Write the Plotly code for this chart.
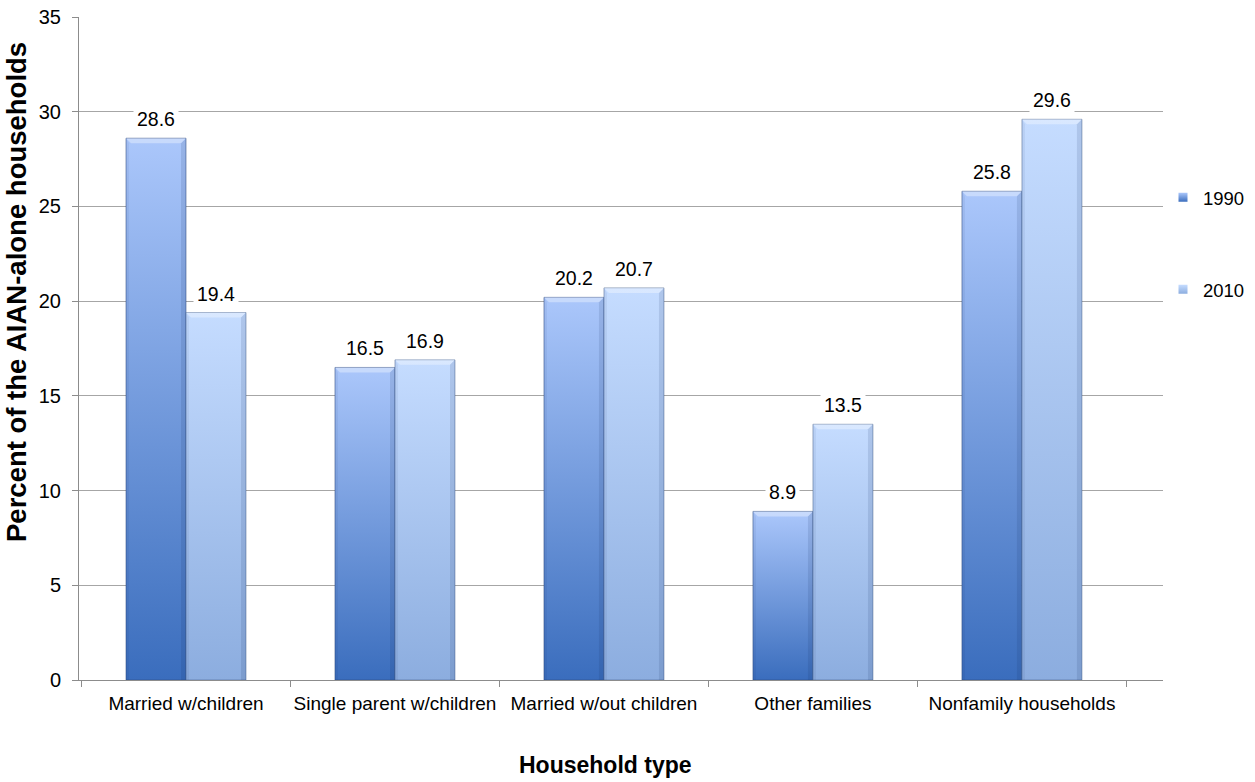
import plotly.graph_objects as go

# Household composition of AIAN-alone households, 1990 vs 2010 (percent)
categories = ["Married w/children", "Single parent w/children",
              "Married w/out children", "Other families", "Nonfamily households"]
years = ["1990", "2010"]
values_1990 = [28.6, 16.5, 20.2, 8.9, 25.8]
values_2010 = [19.4, 16.9, 20.7, 13.5, 29.6]
y_ticks = [0, 5, 10, 15, 20, 25, 30, 35]

# Figure geometry (pixels)
FIG_W, FIG_H = 1255, 782
M_L, M_R, M_T, M_B = 79, 92, 17, 102
PLOT_W = FIG_W - M_L - M_R
PLOT_H = FIG_H - M_T - M_B
X_RANGE = [-0.512, 4.675]
Y_RANGE = [0, 35]
PX_X = PLOT_W / (X_RANGE[1] - X_RANGE[0])
PX_Y = PLOT_H / (Y_RANGE[1] - Y_RANGE[0])

BAR_W = 60 / PX_X          # width of one bar in axis units
BEVEL_H = 5 / PX_Y         # bevel depth (vertical, axis units)
BEVEL_D = 5 / PX_X         # bevel depth (horizontal, axis units)

FONT = "Liberation Sans, Arial, sans-serif"

series_style = {
    "1990": dict(dark="#3a6dbd", light="#abc7fb", edge="rgba(45,75,130,0.55)"),
    "2010": dict(dark="#8caddf", light="#c5dcff", edge="rgba(70,95,140,0.5)"),
}

fig = go.Figure()


def add_bar(xc, left, val, style):
    x0 = xc - BAR_W if left else xc
    x1 = x0 + BAR_W
    # body with vertical gradient, dark at the base
    fig.add_trace(go.Scatter(
        x=[x0, x0, x1, x1, x0], y=[0, val, val, 0, 0],
        mode="lines", fill="toself",
        line=dict(color=style["edge"], width=1),
        fillgradient=dict(type="vertical", start=0, stop=val,
                          colorscale=[[0, style["dark"]], [1, style["light"]]]),
        hoverinfo="skip", showlegend=False))
    # top bevel highlight
    fig.add_trace(go.Scatter(
        x=[x0, x1, x1 - BEVEL_D, x0 + BEVEL_D, x0],
        y=[val, val, val - BEVEL_H, val - BEVEL_H, val],
        mode="lines", fill="toself", line=dict(width=0),
        fillcolor="rgba(255,255,255,0.35)",
        hoverinfo="skip", showlegend=False))
    # shaded side edges
    fig.add_trace(go.Scatter(
        x=[x1, x1, x1 - BEVEL_D, x1 - BEVEL_D, x1],
        y=[0, val, val - BEVEL_H, 0, 0],
        mode="lines", fill="toself", line=dict(width=0),
        fillcolor="rgba(20,40,90,0.12)",
        hoverinfo="skip", showlegend=False))
    fig.add_trace(go.Scatter(
        x=[x0, x0, x0 + BEVEL_D * 0.6, x0 + BEVEL_D * 0.6, x0],
        y=[0, val, val - BEVEL_H, 0, 0],
        mode="lines", fill="toself", line=dict(width=0),
        fillcolor="rgba(20,40,90,0.06)",
        hoverinfo="skip", showlegend=False))
    fig.add_annotation(
        x=(x0 + x1) / 2, y=val, text=f"{val:.1f}", showarrow=False,
        yanchor="middle", yshift=19, bgcolor="white", borderpad=3,
        font=dict(family=FONT, size=19.5, color="black"))


for i, cat in enumerate(categories):
    add_bar(i, True, values_1990[i], series_style["1990"])
    add_bar(i, False, values_2010[i], series_style["2010"])

# legend entries
for yr in years:
    st = series_style[yr]
    fig.add_trace(go.Scatter(
        x=[None], y=[None], mode="markers", name=yr, legendgroup=yr,
        marker=dict(symbol="square", size=9, color=st["light"],
                    gradient=dict(type="vertical", color=st["dark"]),
                    line=dict(width=0))))

# axis titles
fig.add_annotation(
    text="<b>Household type</b>", xref="paper", yref="paper",
    x=(605 - M_L) / PLOT_W, y=-(765 - (FIG_H - M_B)) / PLOT_H,
    xanchor="center", yanchor="middle", showarrow=False,
    font=dict(family=FONT, size=23, color="black"))
fig.add_annotation(
    text="<b>Percent of the AIAN-alone households</b>", xref="paper", yref="paper",
    x=(16 - M_L) / PLOT_W, y=((FIG_H - M_B) - 292) / PLOT_H,
    xanchor="center", yanchor="middle", textangle=-90, showarrow=False,
    font=dict(family=FONT, size=27.5, color="black"))

fig.update_layout(
    width=FIG_W, height=FIG_H,
    margin=dict(l=M_L, r=M_R, t=M_T, b=M_B, autoexpand=False),
    paper_bgcolor="white", plot_bgcolor="white",
    font=dict(family=FONT, size=19, color="black"),
    showlegend=True,
    legend=dict(x=(1163 - M_L) / PLOT_W, y=0.756, xanchor="left", yanchor="top",
                traceorder="grouped", tracegroupgap=65, itemwidth=30,
                font=dict(family=FONT, size=18.5, color="black"),
                bgcolor="rgba(0,0,0,0)"),
    xaxis=dict(
        range=X_RANGE, tickmode="array",
        tickvals=list(range(len(categories))), ticktext=categories,
        ticks="", showgrid=False, zeroline=False,
        showline=True, linecolor="#8c8c8c", linewidth=1,
        ticklabelstandoff=6,
        tickfont=dict(family=FONT, size=19, color="black"),
        minor=dict(tickmode="array",
                   tickvals=[i - 0.5 for i in range(len(categories) + 1)],
                   ticks="outside", ticklen=6, tickcolor="#8c8c8c", showgrid=False)),
    yaxis=dict(
        range=Y_RANGE, tickmode="array", tickvals=y_ticks,
        ticks="outside", ticklen=6, tickcolor="#8c8c8c",
        showgrid=True, gridcolor="#a6a6a6", gridwidth=1, zeroline=False,
        showline=True, linecolor="#8c8c8c", linewidth=1,
        ticklabelstandoff=7,
        tickfont=dict(family=FONT, size=20, color="black")),
)

fig.write_html("out.html")
